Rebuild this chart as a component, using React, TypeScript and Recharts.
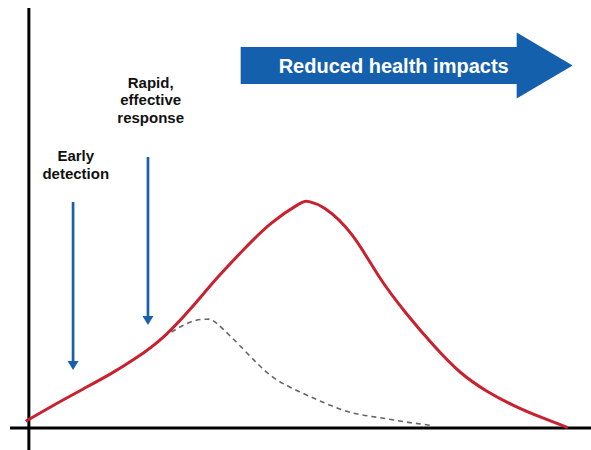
import { LineChart, Line, XAxis, YAxis, ReferenceLine, ReferenceDot } from 'recharts'

// epidemic curve without intervention (time units vs. cases)
const TIME = [-0.6, 5, 10, 15, 20, 25, 30, 35, 40, 45, 50, 52, 55, 60, 65, 70, 75, 80, 85, 90, 95, 100]
const CASES = [1.7, 6.0, 9.7, 13.4, 17.6, 22.8, 29.8, 37.6, 44.8, 51.2, 55.9, 56.6, 54.8, 48.2, 37.8, 28.7, 20.8, 14.0, 9.2, 5.6, 2.7, 0.1]

// curve with early detection and rapid response
const REDUCED_TIME = [25, 30, 33, 35, 40, 45, 50, 55, 60, 65, 70, 75]
const REDUCED_CASES = [22.8, 26.5, 27.2, 26, 19.4, 13, 9.2, 6.2, 3.8, 2.6, 1.5, 0.6]

// annotations
const ACTION_TIMES = [8.2, 22.1]
const ACTION_ARROW_TOP = [56.5, 67.75]
const ACTION_ARROW_BOTTOM = [14.5, 25.75]
const ACTION_LABELS = [['Early', 'detection'], ['Rapid,', 'effective', 'response']]
const ACTION_LABEL_Y = [62.3, 76.3]
const BANNER_TEXT = 'Reduced health impacts'
const BANNER_FROM = 39.3
const BANNER_TO = 100.9
const BANNER_Y = 90.6

const RED = '#c8212f'
const BLUE = '#1a5fac'
const FONT = '"Liberation Sans", Arial, sans-serif'

const unmitigated = TIME.map((t, i) => ({ t, cases: CASES[i] }))
const mitigated = REDUCED_TIME.map((t, i) => ({ t, cases: REDUCED_CASES[i] }))

function DownArrow(props: any) {
  const { x1, y1, y2 } = props
  return (
    <g>
      <line x1={x1} y1={y1} x2={x1} y2={y2 - 8} stroke={BLUE} strokeWidth={2.7} />
      <polygon points={`${x1 - 5.5},${y2 - 9} ${x1 + 5.5},${y2 - 9} ${x1},${y2}`} fill={BLUE} />
    </g>
  )
}

function BannerArrow(props: any) {
  const { x1, x2, y1 } = props
  const cy = y1
  const hx = x2 - 56
  const pts = [
    [x1, cy - 18.5], [hx, cy - 18.5], [hx, cy - 33], [x2, cy],
    [hx, cy + 33], [hx, cy + 18.5], [x1, cy + 18.5],
  ].map((p) => p.join(',')).join(' ')
  return (
    <g>
      <polygon points={pts} fill="#1560ad" />
      <text x={(x1 + x2) / 2 - 13} y={cy + 7} textAnchor="middle" fill="#fff" fontSize={20} fontWeight="bold" fontFamily={FONT}>
        {BANNER_TEXT}
      </text>
    </g>
  )
}

function makeLabel(lines: string[]) {
  return (props: any) => {
    const { cx, cy } = props
    return (
      <text textAnchor="middle" fill="#111" fontSize={15} fontWeight="bold" fontFamily={FONT}>
        {lines.map((l, i) => (
          <tspan key={i} x={cx} y={cy - (lines.length - 1 - i) * 17.5}>{l}</tspan>
        ))}
      </text>
    )
  }
}

export default function App() {
  return (
    <div style={{ width: 591, height: 450, background: '#fff' }}>
      <style>{'body{margin:0}'}</style>
      <LineChart width={591} height={450} margin={{ top: 8, right: 0, bottom: 0, left: 10 }}>
        <XAxis type="number" dataKey="t" domain={[-3.5, 104.3]} allowDataOverflow hide />
        <YAxis type="number" domain={[-5.5, 105]} allowDataOverflow hide />
        <ReferenceLine x={0} stroke="#000" strokeWidth={3} />
        <ReferenceLine y={0} stroke="#000" strokeWidth={3} />
        <Line
          data={mitigated}
          dataKey="cases"
          type="natural"
          stroke="#666"
          strokeWidth={1.6}
          strokeDasharray="5 4"
          dot={false}
          isAnimationActive={false}
        />
        <Line
          data={unmitigated}
          dataKey="cases"
          type="natural"
          stroke={RED}
          strokeWidth={3}
          dot={false}
          isAnimationActive={false}
        />
        {ACTION_TIMES.map((t, i) => (
          <ReferenceLine
            key={'arrow' + i}
            segment={[{ x: t, y: ACTION_ARROW_TOP[i] }, { x: t, y: ACTION_ARROW_BOTTOM[i] }]}
            shape={DownArrow}
          />
        ))}
        {ACTION_TIMES.map((t, i) => (
          <ReferenceDot
            key={'label' + i}
            x={t + 0.5}
            y={ACTION_LABEL_Y[i]}
            r={0}
            shape={makeLabel(ACTION_LABELS[i])}
          />
        ))}
        <ReferenceLine
          segment={[{ x: BANNER_FROM, y: BANNER_Y }, { x: BANNER_TO, y: BANNER_Y }]}
          shape={BannerArrow}
        />
      </LineChart>
    </div>
  )
}
